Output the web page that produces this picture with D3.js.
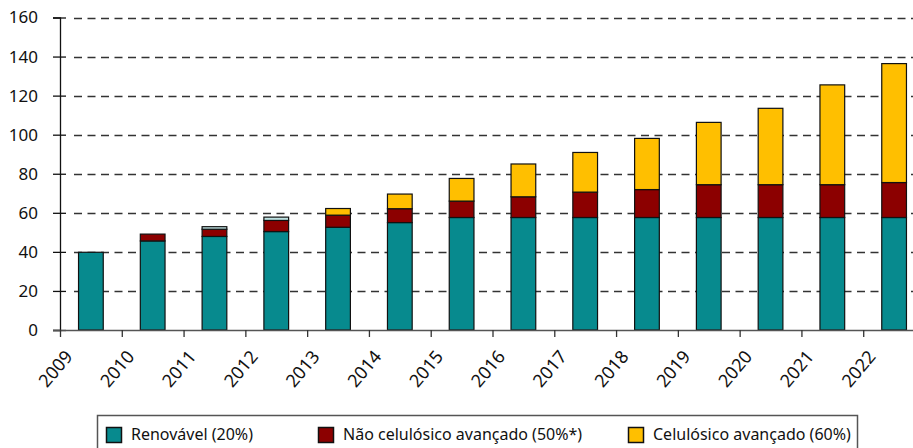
<!DOCTYPE html>
<html lang="pt">

<head>
  <meta charset="UTF-8">
  <title>Mandatos de biocombustíveis</title>
  <script src="https://d3js.org/d3.v7.min.js"></script>
  <style>
    body { margin: 0; background: #fff; }
    svg text { font-family: "Noto Sans", sans-serif; fill: #111; }
  </style>
</head>

<body>
<div id="chart"></div>

<script>
  // data (bilhões de litros)
  var years = [2009, 2010, 2011, 2012, 2013, 2014, 2015, 2016, 2017, 2018, 2019, 2020, 2021, 2022];
  var renovavel = [39.8, 45.6, 47.9, 50.4, 52.6, 55.0, 57.6, 57.6, 57.6, 57.6, 57.6, 57.6, 57.6, 57.6];
  var naoCelulosico = [0, 3.5, 3.7, 5.7, 6.2, 7.1, 8.4, 10.6, 13.0, 14.3, 16.8, 16.8, 16.8, 17.9];
  var celulosico = [0, 0, 0, 0, 3.4, 7.5, 11.6, 16.8, 20.3, 26.2, 31.9, 39.1, 51.1, 60.9];
  // small light segment on top of 2011 and 2012 (not in legend)
  var topoClaro = [0, 0, 1.3, 1.7, 0, 0, 0, 0, 0, 0, 0, 0, 0, 0];
  var yTicks = [0, 20, 40, 60, 80, 100, 120, 140, 160];

  var series = [
    { key: "renovavel", label: "Renovável (20%)", color: "#078a8e", values: renovavel },
    { key: "naoCelulosico", label: "Não celulósico avançado (50%*)", color: "#8c0000", values: naoCelulosico },
    { key: "celulosico", label: "Celulósico avançado (60%)", color: "#ffbf00", values: celulosico },
    { key: "topoClaro", label: null, color: "#bfe3e3", values: topoClaro }
  ];

  var width = 913, height = 448;
  var margin = { left: 60, right: 925, top: 17.5, bottom: 330 };

  var svg = d3.select("#chart")
    .append("svg")
    .attr("width", width)
    .attr("height", height);

  var y = d3.scaleLinear().domain([0, 160]).range([margin.bottom, margin.top]);

  var x = d3.scaleBand()
    .domain(years)
    .range([margin.left, margin.right])
    .paddingInner(0.6)
    .paddingOuter(0.3);

  // boundaries between bars, where the year ticks sit
  var xEdge = d3.scaleLinear()
    .domain([years[0], years[years.length - 1] + 1])
    .range([margin.left, margin.right]);

  // dashed grid
  svg.append("g")
    .selectAll("line")
    .data(yTicks.filter(function(d) { return d > 0; }))
    .enter()
    .append("line")
    .attr("x1", margin.left + 14)
    .attr("x2", margin.right)
    .attr("y1", function(d) { return Math.round(y(d)) + 0.5; })
    .attr("y2", function(d) { return Math.round(y(d)) + 0.5; })
    .attr("stroke", "#333")
    .attr("stroke-width", 1.3)
    .attr("stroke-dasharray", "8,5.5");

  // stacked bars
  var table = years.map(function(yr, i) {
    var row = { year: yr };
    series.forEach(function(s) { row[s.key] = s.values[i]; });
    return row;
  });
  var stack = d3.stack().keys(series.map(function(s) { return s.key; }));
  var layers = stack(table);

  svg.append("g")
    .selectAll("g")
    .data(layers)
    .enter()
    .append("g")
    .attr("fill", function(d, i) { return series[i].color; })
    .selectAll("rect")
    .data(function(d) { return d.filter(function(p) { return p[1] - p[0] > 0; }); })
    .enter()
    .append("rect")
    .attr("x", function(d) { return x(d.data.year); })
    .attr("width", x.bandwidth())
    .attr("y", function(d) { return y(d[1]); })
    .attr("height", function(d) { return y(d[0]) - y(d[1]); })
    .attr("stroke", "#111")
    .attr("stroke-width", 1.2);

  // Y axis
  var yAxis = svg.append("g")
    .attr("transform", "translate(" + margin.left + ",0)")
    .call(d3.axisLeft(y).tickValues(yTicks).tickSize(7).tickPadding(15));
  yAxis.attr("font-family", null).attr("font-size", null);
  yAxis.select(".domain").attr("stroke", "#111").attr("stroke-width", 1.3);
  yAxis.selectAll(".tick line").attr("stroke", "#111").attr("stroke-width", 1.3);
  yAxis.selectAll(".tick").append("line")
    .attr("x2", 6).attr("stroke", "#111").attr("stroke-width", 1.3);
  yAxis.selectAll("text").style("font-size", "17px").attr("fill", "#111");

  // X axis
  var xAxis = svg.append("g")
    .attr("transform", "translate(0," + margin.bottom + ")")
    .call(d3.axisBottom(xEdge)
      .tickValues(years.concat([years[years.length - 1] + 1]))
      .tickFormat(function(d) { return years.indexOf(d) >= 0 ? d : ""; })
      .tickSize(7)
      .tickSizeOuter(0));
  xAxis.attr("font-family", null).attr("font-size", null);
  xAxis.select(".domain").attr("stroke", "#555").attr("stroke-width", 1.5)
    .attr("d", "M" + (margin.left - 7) + ",0.5H" + margin.right);
  xAxis.selectAll(".tick line").attr("stroke", "#333").attr("stroke-width", 1.3);
  xAxis.selectAll("text")
    .style("font-size", "18px")
    .attr("fill", "#111")
    .attr("text-anchor", "end")
    .attr("dy", null)
    .attr("y", 0)
    .attr("transform", "translate(13,27) rotate(-50)");

  // legend
  var legend = svg.append("g");
  legend.append("rect")
    .attr("x", 97.5)
    .attr("y", 415.5)
    .attr("width", 760)
    .attr("height", 50)
    .attr("fill", "none")
    .attr("stroke", "#555")
    .attr("stroke-width", 1.5);

  var legendX = [106, 318, 628];
  var items = legend.selectAll(".item")
    .data(series.filter(function(s) { return s.label; }))
    .enter()
    .append("g")
    .attr("class", "item")
    .attr("transform", function(d, i) { return "translate(" + legendX[i] + ",427)"; });
  items.append("rect")
    .attr("width", 15)
    .attr("height", 15)
    .attr("x", 0.5)
    .attr("y", 0.5)
    .attr("fill", function(d) { return d.color; })
    .attr("stroke", "#111")
    .attr("stroke-width", 1.5);
  items.append("text")
    .attr("x", 25)
    .attr("y", 13)
    .style("font-size", "16px")
    .text(function(d) { return d.label; });
</script>
</body>

</html>
